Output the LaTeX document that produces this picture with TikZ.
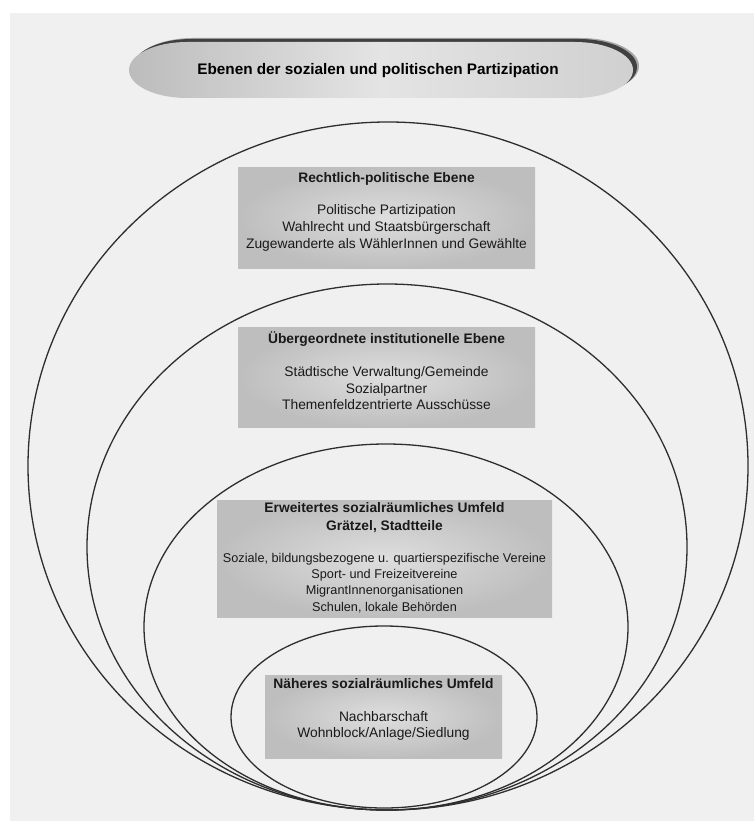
\documentclass[tikz,border=0pt]{standalone}
\usepackage{fontspec}
\setmainfont{Liberation Sans}
\usetikzlibrary{positioning}
\definecolor{pagegray}{HTML}{F0F0F0}
\definecolor{ringline}{HTML}{2E2E2E}
\definecolor{boxlight}{HTML}{DEDEDE}
\definecolor{boxdark}{HTML}{BEBEBE}
\definecolor{bannerlight}{HTML}{E4E4E4}
\definecolor{bannerdark}{HTML}{BCBCBC}

\begin{document}
\begin{tikzpicture}[x=1pt, y=-1pt,
  ring/.style={draw=ringline, line width=1.3pt},
  lvlbox/.style={inner color=boxlight, outer color=boxdark, inner sep=0pt},
  lvltext/.style={align=center, inner sep=0pt, text=black!90, font=\fontsize{13.8}{16.5}\selectfont},
  headtext/.style={inner sep=0pt, font=\fontsize{15.3}{18}\selectfont\bfseries},
  banner/.style={insert path={(187,42) -- (575,42) arc[start angle=90, end angle=-90, x radius=58pt, y radius=28pt]
    -- (187,98) arc[start angle=270, end angle=90, x radius=58pt, y radius=28pt] -- cycle}}]
\useasboundingbox (0,0) rectangle (754,821);
\fill[white] (0,0) rectangle (754,821);
\fill[pagegray] (10,13) rectangle (754,821);
% title banner with its shadow
\fill[black!35, xshift=6pt, yshift=4pt] [banner];
\fill[black!75, xshift=4pt, yshift=3pt] [banner];
\shade[left color=bannerdark, right color=bannerdark!70, middle color=bannerlight] [banner];
\node[headtext] (head) at (378,71) {Ebenen der sozialen und politischen Partizipation};
% nested levels
\draw[ring] (388,466) ellipse [x radius=360pt, y radius=344pt];
\draw[ring] (387,547) ellipse [x radius=300pt, y radius=263pt];
\draw[ring] (386,627) ellipse [x radius=242pt, y radius=183pt];
\draw[ring] (384,717) ellipse [x radius=153pt, y radius=91pt];
% level boxes
\node[lvlbox, minimum width=297, minimum height=100] (boxrp) at (386.5,218) {};
\node[lvltext, below=4pt of boxrp.north] (txtrp) {\textbf{Rechtlich-politische Ebene}\\[16.5pt]
  Politische Partizipation\\ Wahlrecht und Staatsbürgerschaft\\ Zugewanderte als WählerInnen und Gewählte};
\node[lvlbox, minimum width=297, minimum height=100] (boxui) at (386.5,377) {};
\node[lvltext, below=5pt of boxui.north] (txtui) {\textbf{Übergeordnete institutionelle Ebene}\\[16.5pt]
  Städtische Verwaltung/Gemeinde\\ Sozialpartner\\ Themenfeldzentrierte Ausschüsse};
\node[lvlbox, minimum width=335, minimum height=117] (boxwu) at (384.5,558.5) {};
\node[lvltext, font=\fontsize{13.8}{18}\selectfont\bfseries, below=2pt of boxwu.north] (txtwu)
  {Erweitertes sozialräumliches Umfeld\\ Grätzel, Stadtteile};
\node[lvltext, font=\fontsize{12.7}{16.3}\selectfont, below=53pt of boxwu.north] (bodywu)
  {Soziale, bildungsbezogene u. quartierspezifische Vereine\\ Sport- und Freizeitvereine\\
  MigrantInnenorganisationen\\ Schulen, lokale Behörden};
\node[lvlbox, minimum width=237, minimum height=83] (boxnu) at (383.5,716.5) {};
\node[lvltext, below=3pt of boxnu.north] (txtnu) {\textbf{Näheres sozialräumliches Umfeld}\\[16.5pt]
  Nachbarschaft\\ Wohnblock/Anlage/Siedlung};
\end{tikzpicture}
\end{document}
